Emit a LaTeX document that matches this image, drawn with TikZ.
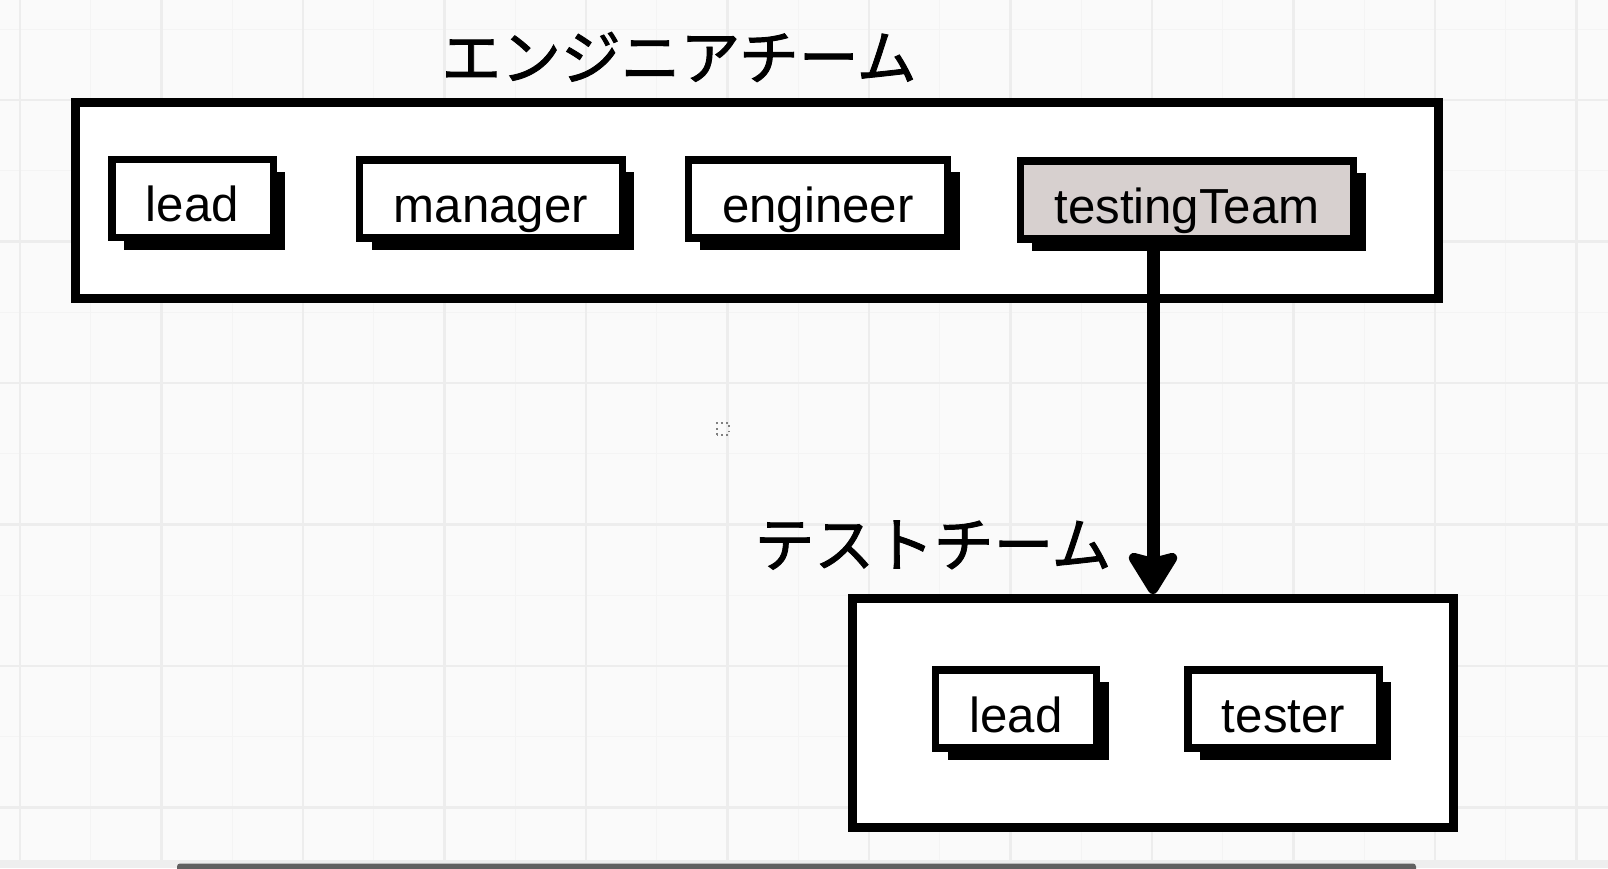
\documentclass[tikz,border=0pt]{standalone}
\usepackage{fontspec}
\setmainfont{Liberation Sans}
\newfontfamily\jpfont[FakeBold=1.5]{Noto Sans CJK JP}
\usetikzlibrary{arrows.meta,shadows}
\definecolor{canvas}{HTML}{FAFAFA}
\definecolor{gridmajor}{HTML}{EDEDED}
\definecolor{gridminor}{HTML}{F4F4F4}
\definecolor{testfill}{HTML}{D7D0CF}
\definecolor{scrollbar}{HTML}{616161}
\definecolor{scrolltrack}{HTML}{EEEEEE}

\begin{document}
\begin{tikzpicture}[
  team/.style={draw, fill=white, line width=2.56pt, inner sep=0pt},
  item/.style={draw, fill=white, line width=2pt, inner xsep=0.34cm, inner ysep=0pt,
    minimum height=0.78cm, text height=0.46cm, text depth=0pt,
    font=\fontsize{14}{16}\selectfont,
    drop shadow={shadow xshift=0.12cm, shadow yshift=-0.12cm, fill=black, opacity=1}},
  title/.style={font=\jpfont\fontsize{17}{20}\selectfont},
  link/.style={line width=3.7pt, -{Stealth[length=0.48cm, width=0.58cm, inset=0.07cm, round]}}
]
\useasboundingbox (0,0) rectangle (16.08,8.68);
\fill[canvas] (0,0) rectangle (16.08,8.68);
\draw[gridminor, line width=0.3pt, step=0.7075, shift={(0.2,0.605)}] (-0.2,-0.605) grid (15.88,8.075);
\draw[gridmajor, line width=0.6pt, step=1.415, shift={(0.2,0.605)}] (-0.2,-0.605) grid (15.88,8.075);
\fill[scrolltrack] (0,0) rectangle (16.08,0.08);
\fill[scrollbar, rounded corners=0.03cm] (1.77,-0.05) rectangle (14.16,0.045);
\draw[gray, densely dotted, line width=0.5pt] (7.17,4.33) rectangle (7.29,4.45);
%
\node[team, minimum width=13.63cm, minimum height=1.96cm] (engteam) at (7.57,6.675) {};
\node[team, minimum width=6.01cm, minimum height=2.29cm] (testteam) at (11.53,1.55) {};
\node[title] (engtitle) at (6.79,8.11) {エンジニアチーム};
\node[title] (testtitle) at (9.33,3.23) {テストチーム};
%
\node[item] (lead) at (1.925,6.695) {lead};
\node[item] (manager) at (4.91,6.69) {manager};
\node[item] (engineer) at (8.18,6.69) {engineer};
\node[item, fill=testfill] (testing) at (11.87,6.68) {testingTeam};
\node[item] (testlead) at (10.16,1.59) {lead};
\node[item] (tester) at (12.835,1.59) {tester};
%
\draw[link] (testing.south -| testteam.north) -- (testteam.north);
\end{tikzpicture}
\end{document}
